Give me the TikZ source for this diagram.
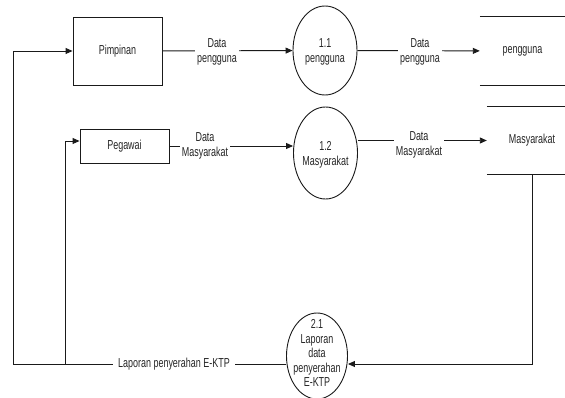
\documentclass[tikz,border=0pt]{standalone}
\usepackage{fontspec}
\setmainfont{Liberation Sans}[FakeStretch=0.69]
\usetikzlibrary{arrows.meta,calc,shapes.geometric}
\definecolor{txt}{HTML}{262626}
\definecolor{ln}{HTML}{1A1A1A}
\begin{document}
\begin{tikzpicture}[x=1pt,y=-1pt,
  every node/.style={font=\fontsize{13}{15}\selectfont, text=txt},
  entity/.style={draw=ln, line width=0.9pt, minimum width=89pt, inner sep=0pt},
  proc/.style={ellipse, draw=ln, line width=0.9pt, inner sep=0pt},
  ptext/.style={align=center, inner sep=0pt},
  store/.style={inner sep=0pt},
  flow/.style={draw=ln, line width=0.9pt, -{Triangle[length=7pt,width=6pt]}},
  plain/.style={draw=ln, line width=0.9pt},
  lbl/.style={fill=white, align=center, inner sep=2pt}]
\useasboundingbox (0,0) rectangle (565,398);
% external entities
\node[entity, minimum height=68pt] (pim) at (117.5,51) {Pimpinan};
\node[entity, minimum height=34pt] (peg) at (124.5,146) {Pegawai};
% processes
\node[proc, minimum width=64pt, minimum height=89pt] (c11) at (325,50.5) {};
\node[ptext] (t11) at (325,52) {1.1\\pengguna};
\node[proc, minimum width=64pt, minimum height=92pt] (c12) at (325.5,153) {};
\node[ptext] (t12) at (325.5,155) {1.2\\Masyarakat};
\node[proc, minimum width=61pt, minimum height=86pt] (c21) at (317,356) {};
\node[ptext, font=\fontsize{13}{14.5}\selectfont] (t21) at (317,353) {2.1\\Laporan\\data\\penyerahan\\E-KTP};
% data stores
\node[store, minimum width=85pt, minimum height=68pt] (s1) at (522.5,51) {pengguna};
\draw[plain] (s1.north west) -- (s1.north east) (s1.south west) -- (s1.south east);
\node[store, minimum width=78pt, minimum height=67pt] (s2) at (526,140.5) {\hspace*{12pt}Masyarakat};
\draw[plain] (s2.north west) -- (s2.north east) (s2.south west) -- (s2.south east);
% junctions
\coordinate (j1) at (13,364);
\coordinate (j2) at (65,364);
\coordinate (j3) at (532,364);
\coordinate (pegin) at ([yshift=5pt]peg.west);
% flows
\draw[flow] (pim) -- (c11);
\draw[flow] (c11) -- (s1);
\draw[flow] (peg.east) -- (c12.west |- peg.east);
\draw[flow] (c12.east |- s2.west) -- (s2.west);
\draw[flow] ([xshift=6pt]s2.south) -- (j3) -- (c21.east |- j3);
\draw[plain] (c21.west |- j1) -- (j1);
\draw[flow] (j1) -- (j1 |- pim.west) -- (pim.west);
\draw[flow] (j2) -- (j2 |- pegin) -- (pegin);
% labels
\node[lbl] (l1) at (217,52) {Data\\pengguna};
\node[lbl] (l2) at (420,52) {Data\\pengguna};
\node[lbl] (l3) at (205,146) {Data\\Masyarakat};
\node[lbl] (l4) at (419,145) {Data\\Masyarakat};
\node[lbl, inner xsep=5pt] (l5) at (174,364) {Laporan penyerahan E-KTP};
\end{tikzpicture}
\end{document}
